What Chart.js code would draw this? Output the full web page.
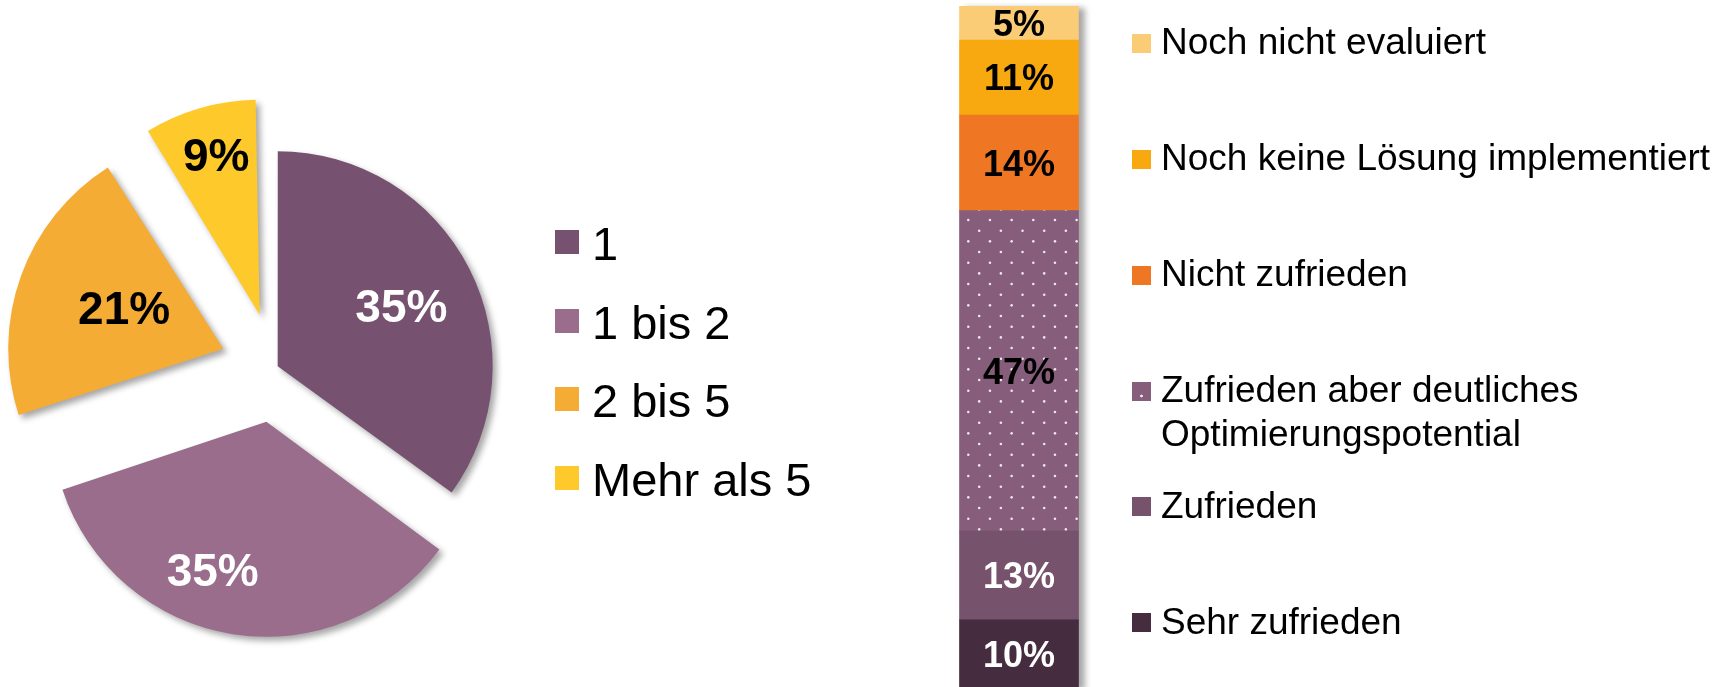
<!DOCTYPE html>
<html lang="de">
<head>
<meta charset="utf-8">
<title>Anzahl und Zufriedenheit</title>
<script src="https://cdn.jsdelivr.net/npm/chart.js@4.4.1/dist/chart.umd.min.js"></script>
<style>
    html, body {
        margin: 0;
        padding: 0;
        background: #ffffff;
        overflow: hidden;
    }
    body {
        position: relative;
        width: 1733px;
        height: 687px;
        font-family: "Liberation Sans", Arial, sans-serif;
        color: #000000;
    }
    canvas { position: absolute; top: 0; }
    #pieChart { left: 0; filter: drop-shadow(4px 4px 3px rgba(0, 0, 0, 0.35)); }
    #barChart { left: 900px; filter: drop-shadow(6px 2px 3px rgba(0, 0, 0, 0.35)); }
    .swatch, .label { position: absolute; display: block; }
    .label { white-space: normal; }
</style>
</head>
<body>
<canvas id="pieChart" width="550" height="687"></canvas>
<div id="pieLegend"></div>
<canvas id="barChart" width="238" height="689"></canvas>
<div id="barLegend"></div>

<script>
/* =========================================================
   Anzahl (Pie) + Zufriedenheit (Stacked Bar)
   ========================================================= */

// Pie data
const pieLabels = ['1', '1 bis 2', '2 bis 5', 'Mehr als 5'];
const pieShares = [35, 35, 21, 9];

// Stacked bar data, bottom to top
const barCategory = ['Zufriedenheit'];
const statusLabels = [
    'Sehr zufrieden',
    'Zufrieden',
    'Zufrieden aber deutliches Optimierungspotential',
    'Nicht zufrieden',
    'Noch keine Lösung implementiert',
    'Noch nicht evaluiert'
];
const statusShares = [10, 13, 47, 14, 11, 5];

// Styles
const FONT = '"Liberation Sans", Arial, sans-serif';
const pieColors = ['#775270', '#9A6D8D', '#F5AC34', '#FECA2B'];
const pieTextColors = ['#ffffff', '#ffffff', '#000000', '#000000'];
const pieOffsets = [12, 220, 220, 220];
const pieLabelRadius = [0.64, 0.73, 0.50, 0.77];
const pieLabelTurn = [1, 11, 3, 1];

const statusColors = ['#452C3F', '#76526C', '#865D7B', '#EF7622', '#F7A90F', '#F9CC75'];
const statusTextColors = ['#ffffff', '#ffffff', '#000000', '#000000', '#000000', '#000000'];

// draw "47%" style text so that the digits are centred on (x, y)
function centredText(ctx, text, x, y, size) {
    ctx.textAlign = 'center';
    ctx.textBaseline = 'alphabetic';
    ctx.fillText(text, x, y + size * 0.358);
}

// white dot pattern for "Zufrieden aber deutliches Optimierungspotential"
function dotPattern(ctx, base) {
    const tile = document.createElement('canvas');
    tile.width = 65;
    tile.height = 64;
    const c = tile.getContext('2d');
    c.fillStyle = base;
    c.fillRect(0, 0, 65, 64);
    c.fillStyle = 'rgba(255, 255, 255, 0.85)';
    for (let i = -1; i <= 3; i++) {
        for (let j = -1; j <= 3; j++) {
            [[3.3, 6.7], [14.2, 17.4]].forEach(([dx, dy]) => {
                c.beginPath();
                c.arc(dx + i * 65 / 3, dy + j * 64 / 3, 1.3, 0, Math.PI * 2);
                c.fill();
            });
        }
    }
    return ctx.createPattern(tile, 'repeat');
}

// HTML legend, items top to bottom
function buildLegend(id, items, o) {
    const host = document.getElementById(id);
    items.forEach((it, k) => {
        const cy = o.top + k * o.step;
        const sw = document.createElement('span');
        sw.className = 'swatch';
        sw.style.left = o.boxX + 'px';
        sw.style.top = (cy + o.boxDy - o.box / 2) + 'px';
        sw.style.width = o.box + 'px';
        sw.style.height = o.box + 'px';
        sw.style.background = it.swatch;
        const tx = document.createElement('span');
        tx.className = 'label';
        tx.style.left = o.textX + 'px';
        tx.style.top = (cy - o.lineH / 2) + 'px';
        tx.style.width = o.width + 'px';
        tx.style.fontSize = o.font + 'px';
        tx.style.lineHeight = o.lineH + 'px';
        tx.textContent = it.text;
        host.appendChild(sw);
        host.appendChild(tx);
    });
}

// Chart 1: Pie with exploded slices
new Chart(document.getElementById('pieChart'), {
    type: 'pie',
    data: {
        labels: pieLabels,
        datasets: [{
            data: pieShares,
            backgroundColor: pieColors,
            borderWidth: 0,
            offset: pieOffsets,
            radius: 215
        }]
    },
    options: {
        responsive: false,
        animation: false,
        events: [],
        layout: { padding: { top: 48 } },
        plugins: { legend: { display: false }, tooltip: { enabled: false } }
    },
    plugins: [{
        id: 'keepRadius',
        // Chart.js grows exploded arcs a little, pull them back to the same radius
        beforeDatasetsDraw(chart) {
            const meta = chart.getDatasetMeta(0);
            const R = meta.controller.outerRadius;
            meta.data.forEach(arc => {
                const shift = (arc.options.offset || 0) / 4;
                const fix = 1 - Math.sin(Math.min(Math.PI, arc.circumference));
                arc.outerRadius = R - shift * fix;
            });
        }
    }, {
        id: 'pieValues',
        afterDatasetsDraw(chart) {
            const ctx = chart.ctx;
            const meta = chart.getDatasetMeta(0);
            const R = meta.controller.outerRadius;
            ctx.save();
            ctx.font = 'bold 46px ' + FONT;
            meta.data.forEach((arc, i) => {
                const mid = (arc.startAngle + arc.endAngle) / 2;
                const shift = (arc.options.offset || 0) / 4;
                const a = mid + pieLabelTurn[i] * Math.PI / 180;
                const r = pieLabelRadius[i] * R;
                const x = arc.x + Math.cos(mid) * shift + Math.cos(a) * r;
                const y = arc.y + Math.sin(mid) * shift + Math.sin(a) * r;
                ctx.fillStyle = pieTextColors[i];
                centredText(ctx, pieShares[i] + '%', x, y, 46);
            });
            ctx.restore();
        }
    }]
});

// Chart 2: one stacked bar
const barCanvas = document.getElementById('barChart');
const barFills = statusColors.slice();
barFills[2] = dotPattern(barCanvas.getContext('2d'), statusColors[2]);

new Chart(barCanvas, {
    type: 'bar',
    data: {
        labels: barCategory,
        datasets: statusLabels.map((label, i) => ({
            label: label,
            data: [statusShares[i]],
            backgroundColor: barFills[i],
            borderWidth: 0,
            barThickness: 119
        }))
    },
    options: {
        responsive: false,
        animation: false,
        events: [],
        layout: { padding: { top: 6, bottom: 1, left: 0, right: 0 } },
        scales: {
            x: { stacked: true, display: false },
            y: { stacked: true, display: false, min: 0, max: 100 }
        },
        plugins: { legend: { display: false }, tooltip: { enabled: false } }
    },
    plugins: [{
        id: 'barValues',
        afterDatasetsDraw(chart) {
            const ctx = chart.ctx;
            ctx.save();
            ctx.font = 'bold 36px ' + FONT;
            chart.data.datasets.forEach((ds, i) => {
                const bar = chart.getDatasetMeta(i).data[0];
                ctx.fillStyle = statusTextColors[i];
                centredText(ctx, statusShares[i] + '%', bar.x, (bar.y + bar.base) / 2, 36);
            });
            ctx.restore();
        }
    }]
});

// Legends
buildLegend('pieLegend', pieLabels.map((t, i) => ({ text: t, swatch: pieColors[i] })), {
    top: 244, step: 78.5, boxX: 555, box: 24, boxDy: -2,
    textX: 592, font: 47, lineH: 54, width: 400
});

const dotSwatch = 'radial-gradient(circle at 9.5px 14px, rgba(255,255,255,0.85) 1px, rgba(255,255,255,0) 1.8px), ' + statusColors[2];
buildLegend('barLegend', statusLabels.map((t, i) => ({
    text: t,
    swatch: i === 2 ? dotSwatch : statusColors[i]
})).reverse(), {
    top: 42.3, step: 115.9, boxX: 1132, box: 19, boxDy: 1,
    textX: 1161, font: 37, lineH: 44.2, width: 565
});
</script>
</body>
</html>
